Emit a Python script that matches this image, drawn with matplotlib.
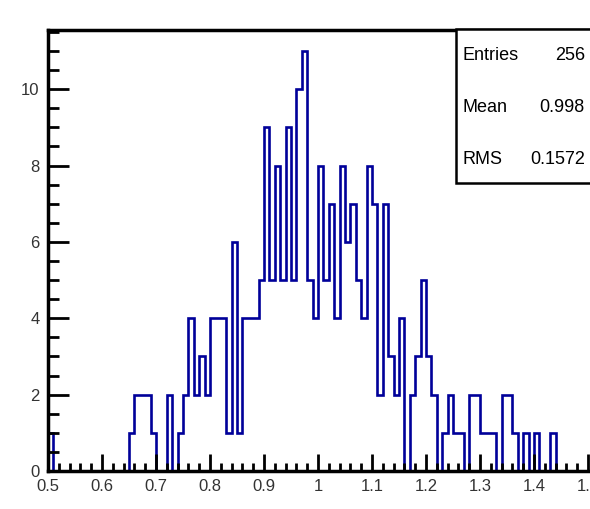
import numpy as np
import matplotlib
matplotlib.use("Agg")
import matplotlib.pyplot as plt
from matplotlib.patches import Rectangle
from matplotlib.ticker import MultipleLocator

# ----------------------------------------------------------------------------
# Data — bin contents (100 bins, 0.5 .. 1.5)
# ----------------------------------------------------------------------------

x_lo, x_hi, n_bins = 0.5, 1.5, 100
counts = [
    1, 0, 0, 0, 0, 0, 0, 0, 0, 0,    # 0.50 - 0.59
    0, 0, 0, 0, 0, 1, 2, 2, 2, 1,    # 0.60 - 0.69
    0, 0, 2, 0, 1, 2, 4, 2, 3, 2,    # 0.70 - 0.79
    4, 4, 4, 1, 6, 1, 4, 4, 4, 5,    # 0.80 - 0.89
    9, 5, 8, 5, 9, 5, 10, 11, 5, 4,  # 0.90 - 0.99
    8, 5, 7, 4, 8, 6, 7, 5, 4, 8,    # 1.00 - 1.09
    7, 2, 7, 3, 2, 4, 0, 2, 3, 5,    # 1.10 - 1.19
    3, 2, 0, 1, 2, 1, 1, 0, 2, 2,    # 1.20 - 1.29
    1, 1, 1, 0, 2, 2, 1, 0, 1, 0,    # 1.30 - 1.39
    1, 0, 0, 1, 0, 0, 0, 0, 0, 0,    # 1.40 - 1.49
]
stats_names = ["Entries", "Mean", "RMS"]
stats_values = ["256", "0.998", "0.1572"]

W, H = 590, 509
line_col = "#000099"
label_col = "#333333"
font = "Liberation Sans"

# ----------------------------------------------------------------------------
# Plot
# ----------------------------------------------------------------------------

fig = plt.figure(figsize=(W / 100, H / 100), dpi=100)
ax = fig.add_axes([48 / W, 1 - 471 / H, (588 - 48) / W, (471 - 30) / H])

edges = np.linspace(x_lo, x_hi, n_bins + 1)
ax.stairs(counts, edges, color=line_col, lw=1.9, baseline=0)

ax.set_xlim(x_lo, x_hi)
ax.set_ylim(0, 1.05 * max(counts))

ax.xaxis.set_major_locator(MultipleLocator(0.1))
ax.xaxis.set_minor_locator(MultipleLocator(0.02))
ax.yaxis.set_major_locator(MultipleLocator(2))
ax.yaxis.set_minor_locator(MultipleLocator(0.5))
ax.set_xticks(np.arange(5, 16) / 10)
ax.set_xticklabels(["0.5", "0.6", "0.7", "0.8", "0.9", "1", "1.1", "1.2",
                    "1.3", "1.4", "1.5"])

ax.tick_params(which="both", direction="in", top=False, right=False,
               width=2.0, color="black", labelsize=12, labelcolor=label_col)
ax.tick_params(axis="x", which="major", length=12, pad=6)
ax.tick_params(axis="x", which="minor", length=6)
ax.tick_params(axis="y", which="major", length=15, pad=6)
ax.tick_params(axis="y", which="minor", length=8)
for lab in ax.get_xticklabels() + ax.get_yticklabels():
    lab.set_fontfamily(font)

for side in ["left", "bottom", "top"]:
    ax.spines[side].set_linewidth(2.5)
ax.spines["right"].set_visible(False)

# stats box, top right (clipped by the figure edge like the original)
bx0, by0, bx1, by1 = 456, 29, 600, 183
fig.add_artist(Rectangle((bx0 / W, 1 - by1 / H), (bx1 - bx0) / W, (by1 - by0) / H,
                         transform=fig.transFigure, facecolor="white",
                         edgecolor="black", lw=1.8, zorder=5))
for i, (name, val) in enumerate(zip(stats_names, stats_values)):
    y = 1 - (56 + 52 * i) / H
    fig.text(463 / W, y, name, ha="left", va="center", fontsize=13,
             family=font, color="black", zorder=6)
    fig.text(585 / W, y, val, ha="right", va="center", fontsize=13,
             family=font, color="black", zorder=6)

fig.savefig("out.png", dpi=100)
